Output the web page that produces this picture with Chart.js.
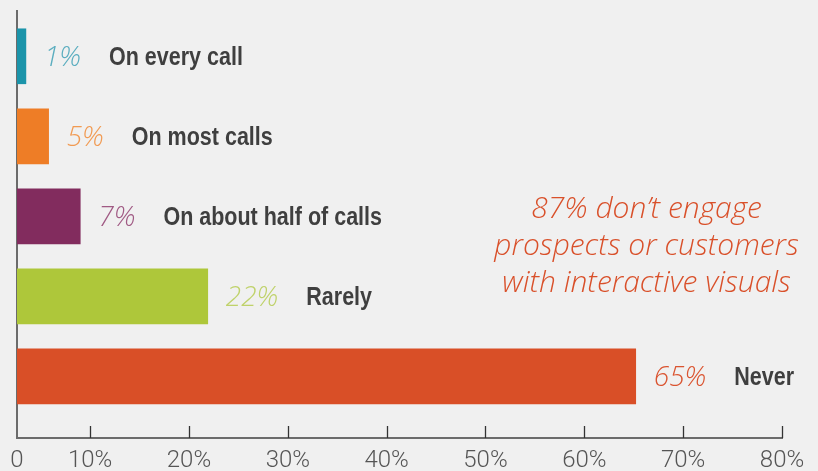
<!DOCTYPE html>
<html>
<head>
<meta charset="utf-8">
<script src="https://cdn.jsdelivr.net/npm/chart.js@4/dist/chart.umd.min.js"></script>
<style>
  html, body { margin: 0; padding: 0; background: #f0f0f0; }
  #chart { display: block; }
</style>
</head>
<body>
<canvas id="chart" width="818" height="471"></canvas>
<script>
// ---- data ----
const categories = ["On every call", "On most calls", "On about half of calls", "Rarely", "Never"];
const pctLabels = [1, 5, 7, 22, 65];
// bar lengths as drawn, measured against the axis
const barValues = [3.5, 5.8, 9.0, 21.9, 65.2];
const barColors = ["#1b94aa", "#ee7d26", "#822c5e", "#aec73a", "#d94f27"];
const pctColors = ["#5aadbf", "#f19a52", "#a05a84", "#bfd26a", "#da5430"];
const tickValues = [0, 10, 20, 30, 40, 50, 60, 70, 80];
const tickLabels = ["0", "10%", "20%", "30%", "40%", "50%", "60%", "70%", "80%"];
const note = ["87% don\u2019t engage", "prospects or customers", "with interactive visuals"];

// the 0–10 step is squeezed in the original, so the axis line sits at ~2.6
const xMin = 2.6;
const xMax = 80;

const pctFont = "italic 300 28px 'Open Sans', 'Lato', sans-serif";
const noteFont = "italic 300 30px 'Open Sans', 'Lato', sans-serif";
const catFont = "bold 25px 'Liberation Sans', sans-serif";
const catSquash = 0.86; // condensed look

const barLabels = {
  id: "barLabels",
  afterDatasetsDraw(chart) {
    const ctx = chart.ctx;
    const meta = chart.getDatasetMeta(0);
    ctx.save();
    ctx.textAlign = "left";
    ctx.textBaseline = "alphabetic";
    meta.data.forEach((bar, i) => {
      let x = bar.x + 18;
      const t = pctLabels[i] + "%";
      ctx.font = pctFont;
      ctx.fillStyle = pctColors[i];
      ctx.fillText(t, x, bar.y + 10);
      x += ctx.measureText(t).width + 28;
      ctx.font = catFont;
      ctx.fillStyle = "#3f3f3f";
      ctx.save();
      ctx.translate(x, bar.y + 9);
      ctx.scale(catSquash, 1);
      ctx.fillText(categories[i], 0, 0);
      ctx.restore();
    });
    // handwritten note
    ctx.font = noteFont;
    ctx.fillStyle = "#d9502a";
    ctx.textAlign = "center";
    const nx = chart.scales.x.getPixelForValue(66.3);
    note.forEach((line, i) => ctx.fillText(line, nx, 218 + i * 37));
    ctx.restore();
  }
};

// tick marks point up from the axis line
const innerTicks = {
  id: "innerTicks",
  afterDraw(chart) {
    const s = chart.scales.x;
    const ctx = chart.ctx;
    ctx.save();
    ctx.strokeStyle = "#333";
    ctx.lineWidth = 1.3;
    s.ticks.forEach(t => {
      if (t.value <= xMin) return;
      const px = Math.round(s.getPixelForValue(t.value)) + 0.5;
      ctx.beginPath();
      ctx.moveTo(px, s.top);
      ctx.lineTo(px, s.top - 12);
      ctx.stroke();
    });
    ctx.restore();
  }
};

new Chart(document.getElementById("chart"), {
  type: "bar",
  data: {
    datasets: [{
      data: barValues.map((v, i) => ({ x: v, y: i })),
      backgroundColor: barColors,
      borderWidth: 0,
      barThickness: 55,
      base: xMin,
    }],
  },
  options: {
    indexAxis: "y",
    responsive: false,
    animation: false,
    events: [],
    layout: { padding: { left: 17, top: 11, right: 36, bottom: 0 } },
    plugins: { legend: { display: false }, tooltip: { enabled: false } },
    scales: {
      x: {
        type: "linear",
        min: xMin,
        max: xMax,
        afterBuildTicks: s => { s.ticks = tickValues.map(v => ({ value: Math.max(v, xMin) })); },
        afterFit: s => { s.height = 33; },
        grid: { display: false, drawTicks: false },
        border: { display: true, color: "#6b6b6b", width: 2 },
        ticks: {
          padding: 9,
          color: "#555",
          font: { family: "Roboto", weight: 300, size: 24 },
          callback: (v, i) => tickLabels[i],
          autoSkip: false,
          maxRotation: 0,
        },
      },
      y: {
        type: "linear",
        reverse: true,
        offset: false,
        min: -0.566,
        max: 4.77,
        afterFit: s => { s.width = 0; },
        grid: { display: false, drawTicks: false },
        border: { display: true, color: "#6b6b6b", width: 2 },
        ticks: { display: false },
      },
    },
  },
  plugins: [barLabels, innerTicks],
});
</script>
</body>
</html>
